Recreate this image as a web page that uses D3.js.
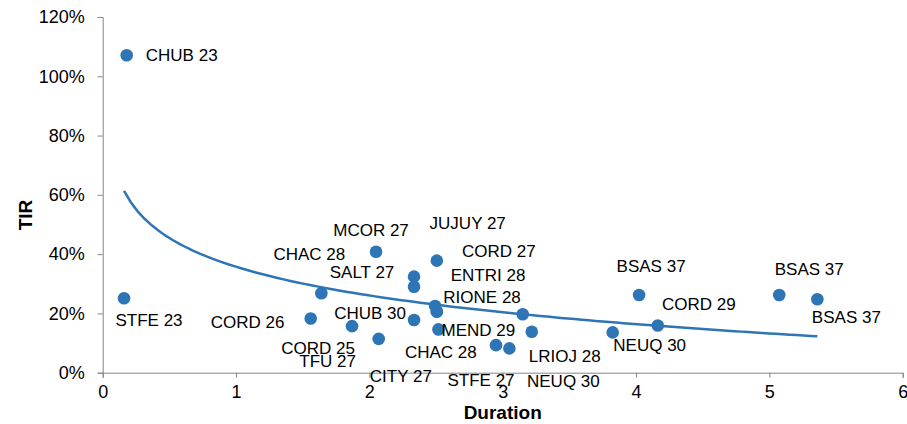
<!DOCTYPE html>
<html lang="en">
<head>
    <meta charset="UTF-8">
    <title>TIR vs Duration</title>
    <script src="https://d3js.org/d3.v7.min.js"></script>
    <style>
        body{ margin:0; background:#fff; }
        .tick text{ font-family: "Liberation Sans", Arial, sans-serif; font-size:18px; fill:#000; }
        .tag{ font-family: "Liberation Sans", Arial, sans-serif; font-size:17px; fill:#000; }
        .title{ font-family: "Liberation Sans", Arial, sans-serif; font-size:19px; font-weight:bold; }
    </style>
</head>
<body>
<svg width="907" height="424"></svg>
<script>
    // bonds: name, duration (years), TIR (%)
    const names = ["CHUB 23","STFE 23","CHAC 28","MCOR 27","CORD 26","CORD 25","TFU 27","SALT 27",
        "CHUB 30","ENTRI 28","CORD 27","RIONE 28","CHAC 28","CITY 27","MEND 29","STFE 27",
        "NEUQ 30","JUJUY 27","LRIOJ 28","NEUQ 30","BSAS 37","CORD 29","BSAS 37","BSAS 37"]
    const duration = [0.18,0.16,1.64,2.05,1.56,1.87,2.07,2.335,
        2.335,2.335,2.506,2.493,2.506,2.506,2.518,2.95,
        3.05,3.15,3.218,3.825,4.023,4.163,5.074,5.36]
    const tir = [107.1,25.1,26.8,40.8,18.3,15.7,11.4,32.4,
        17.8,29.0,37.8,22.5,20.6,20.6,14.6,9.3,
        8.2,19.7,13.8,13.6,26.2,15.9,26.2,24.8]
    const xTicks = [0,1,2,3,4,5,6]
    const yTicks = [0,20,40,60,80,100,120]

    // label placement relative to the dot (px)
    const labelOffsets = [[55,0],[25,22],[-12,-39],[-5,-22],[-63,4],[-34,22],[-51,22],[-52,-5],
        [-44,-7],[74,-12],[62,-10],[47,-9],[4,40],[-36,64],[40,1],[-15,35],
        [54,33],[-55,-91],[33,24],[37,13],[12,-29],[41,-22],[30,-26],[29,18]]

    const plotLeft = 102.7, plotRight = 902.7, plotTop = 17, plotBottom = 372.7
    const axisColor = "#868686", dotColor = "#2E75B6"

    const x = d3.scaleLinear().domain([0,6]).range([plotLeft,plotRight])
    const y = d3.scaleLinear().domain([0,120]).range([plotBottom,plotTop])

    const svg = d3.select("svg")

    svg.append("g")
        .attr("transform",`translate(${plotLeft},0)`)
        .call(d3.axisLeft(y).tickValues(yTicks).tickFormat(d=>d+"%").tickSizeOuter(0).tickSize(5).tickPadding(13))
    svg.append("g")
        .attr("transform",`translate(0,${plotBottom})`)
        .call(d3.axisBottom(x).tickValues(xTicks).tickFormat(d3.format("d")).tickSizeOuter(0).tickSize(5).tickPadding(8))
    svg.selectAll(".domain, .tick line").attr("stroke",axisColor)

    // logarithmic trendline fitted to the points, like Excel does
    const lx = duration.map(Math.log)
    const mx = d3.mean(lx), my = d3.mean(tir)
    const b = d3.sum(lx,(v,i)=>(v-mx)*(tir[i]-my)) / d3.sum(lx,v=>(v-mx)*(v-mx))
    const a = my - b*mx
    const [xmin,xmax] = d3.extent(duration)
    const trend = d3.range(0,101).map(i=>xmin+(xmax-xmin)*i/100)
    svg.append("path")
        .attr("d",d3.line().x(d=>x(d)).y(d=>y(a+b*Math.log(d)))(trend))
        .attr("fill","none")
        .attr("stroke",dotColor)
        .attr("stroke-width",2.5)

    const pts = names.map((n,i)=>({name:n,dx:duration[i],ty:tir[i],off:labelOffsets[i]}))

    svg.selectAll(".dot").data(pts).enter()
        .append("circle")
        .attr("class","dot")
        .attr("cx",d=>x(d.dx))
        .attr("cy",d=>y(d.ty))
        .attr("r",6.3)
        .attr("fill",dotColor)

    svg.selectAll(".tag").data(pts).enter()
        .append("text")
        .attr("class","tag")
        .attr("x",d=>x(d.dx)+d.off[0])
        .attr("y",d=>y(d.ty)+d.off[1])
        .attr("text-anchor","middle")
        .attr("dy","0.35em")
        .text(d=>d.name)

    svg.append("text")
        .attr("class","title")
        .attr("x",(plotLeft+plotRight)/2)
        .attr("y",419)
        .attr("text-anchor","middle")
        .text("Duration")
    svg.append("text")
        .attr("class","title")
        .attr("transform","translate(32,215) rotate(-90)")
        .attr("text-anchor","middle")
        .text("TIR")
</script>
</body>
</html>
